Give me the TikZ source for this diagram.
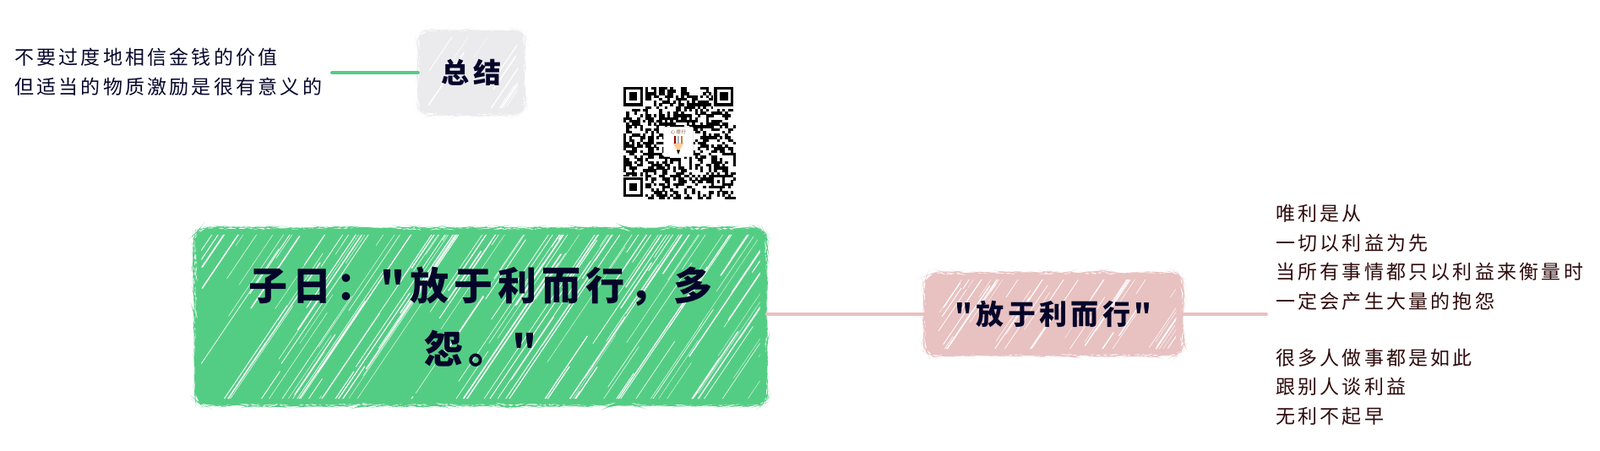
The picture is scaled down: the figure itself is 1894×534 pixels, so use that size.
\documentclass[tikz,border=0pt]{standalone}
\usepackage{fontspec}
\newfontfamily\cjk[LetterSpace=14]{Noto Sans CJK SC}
\newfontfamily\cjktitle[LetterSpace=13]{Noto Sans CJK SC}
\usepackage{xcolor}
\usetikzlibrary{decorations.pathmorphing,positioning,calc}
\definecolor{topicgreen}{HTML}{54CD84}
\definecolor{topicgrey}{HTML}{EBEAED}
\definecolor{topicpink}{HTML}{E8C1C1}
\definecolor{inkblue}{HTML}{05052A}
\definecolor{inkred}{HTML}{2E0A0A}
% white pencil strokes: count, seed, width, height
\newcommand{\scratches}[4]{%
	\pgfmathsetseed{#2}
	\begin{scope}
	\clip ([shift={(9,9)}]path picture bounding box.north west) rectangle ([shift={(-9,-9)}]path picture bounding box.south east);
	\foreach \i in {1,...,#1}{
		\pgfmathsetmacro{\sx}{rnd*1.3*#3}
		\pgfmathsetmacro{\sy}{rnd*1.5*#4}
		\pgfmathsetmacro{\sl}{(0.3+rnd)*#4}
		\pgfmathsetmacro{\sw}{0.3+rnd*rnd*1.7}
		\draw[white,line width=\sw pt,line cap=round] ([shift={(\sx,\sy)}]path picture bounding box.north west) -- ++({0.56*\sl},{-0.83*\sl});
	}
	\end{scope}
}
\tikzset{
	topic/.style={rounded corners=14pt,fill=#1,inner sep=0pt,align=center,text=inkblue,
		decoration={random steps,segment length=4pt,amplitude=0.8pt},decorate},
	note/.style={inner sep=0pt,align=left,anchor=north west,font=\cjk\fontsize{23}{34.6}\selectfont},
	branch/.style={line width=4pt,line cap=round,#1},
	bigtitle/.style={font=\cjktitle\bfseries\fontsize{46}{75}\selectfont},
	smalltitle/.style={font=\cjktitle\bfseries\fontsize{33}{38}\selectfont},
}
\begin{document}
\begin{tikzpicture}[x=1pt,y=-1pt]
	\useasboundingbox (0,0) rectangle (1894,534);

	\node[topic=topicgreen,bigtitle,minimum width=677pt,minimum height=210pt,
		path picture={\scratches{230}{7}{677}{210}}] (main) at (569,375)
		{子日："放于利而行，多\\怨。"};
	\node[topic=topicgrey,smalltitle,minimum width=126pt,minimum height=100pt,
		path picture={\scratches{22}{3}{126}{100}}] (summary) at (558,86)
		{总结};
	\node[topic=topicpink,smalltitle,minimum width=306pt,minimum height=98pt,
		path picture={\scratches{70}{11}{306}{98}}] (quote) at (1247,372)
		{"放于利而行"};

	\node[note,text=inkblue] (summarytext) at (17,57) {不要过度地相信金钱的价值\\但适当的物质激励是很有意义的};
	\node[note,text=inkred] (quotetext) at (1510,242) {唯利是从\\一切以利益为先\\当所有事情都只以利益来衡量时\\一定会产生大量的抱怨\\[32.5pt]很多人做事都是如此\\跟别人谈利益\\无利不起早};

	\coordinate (summaryend) at (393,86);
	\coordinate (quoteend) at (1499,372);
	\draw[branch=topicgreen] (summary.west) -- (summaryend);
	\draw[branch=topicpink] (main.east |- quote.west) -- (quote.west);
	\draw[branch=topicpink] (quote.east) -- (quoteend);

	% qr code, 41 modules
	\begin{scope}[shift={(738,103)},x=3.25pt,y=-3.25pt]
		\pgfmathsetseed{42}
		\foreach \c in {0,...,40}{
			\foreach \r in {0,...,40}{
				\pgfmathparse{rnd<0.5 ? 1 : 0}
				\ifnum\pgfmathresult=1
					\fill (\c,\r) rectangle (\c+1.02,\r+1.02);
				\fi
			}
		}
		\foreach \c/\r in {0/0,33/0,0/33}{
			\fill[white] (\c-0.5,\r-0.5) rectangle (\c+8,\r+8);
			\fill (\c,\r) rectangle (\c+7,\r+7);
			\fill[white] (\c+1,\r+1) rectangle (\c+6,\r+6);
			\fill (\c+2,\r+2) rectangle (\c+5,\r+5);
		}
		\fill (32,32) rectangle (37,37);
		\fill[white] (33,33) rectangle (36,36);
		\fill (34,34) rectangle (35,35);
		\filldraw[draw=gray!30,fill=white,rounded corners=1.2pt] (14.6,14.6) rectangle (25.4,25.4);
		\fill[orange!40] (18,20.4) -- (22,20.4) -- (20,24) -- cycle;
		\fill[black] (19.4,23) -- (20.6,23) -- (20,24.6) -- cycle;
		\fill[red!60!black] (18.4,18) rectangle (19.2,20.6);
		\fill[gray!60] (19.6,18) rectangle (20.4,20.6);
		\fill[brown] (20.8,18) rectangle (21.6,20.6);
		\node[text=brown!70!black,font=\cjk\fontsize{5.5}{6}\selectfont,inner sep=0pt] (qrlabel) at (20,16.4) {心理行};
	\end{scope}
\end{tikzpicture}
\end{document}
